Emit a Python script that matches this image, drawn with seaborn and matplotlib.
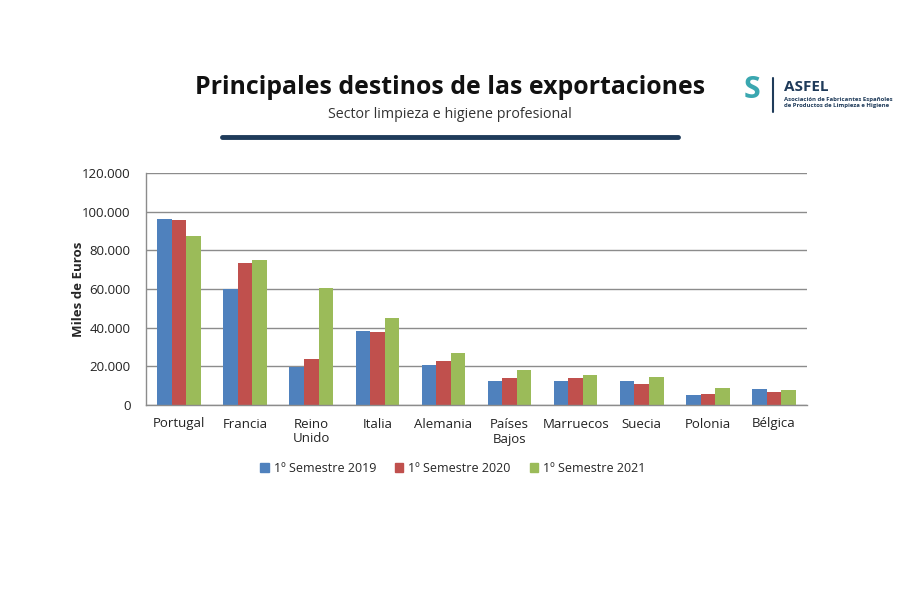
import matplotlib
matplotlib.use("Agg")
import matplotlib.pyplot as plt
import seaborn as sns
import pandas as pd
from matplotlib.patches import Patch
from matplotlib.ticker import FuncFormatter

paises = ["Portugal", "Francia", "Reino\nUnido", "Italia", "Alemania",
          "Países\nBajos", "Marruecos", "Suecia", "Polonia", "Bélgica"]
series = ["1º Semestre 2019", "1º Semestre 2020", "1º Semestre 2021"]
s2019 = [96100, 59800, 19900, 38400, 20800, 12200, 12200, 12200, 5300, 8100]
s2020 = [95600, 73600, 23900, 37800, 22900, 13800, 13800, 10700, 5800, 6900]
s2021 = [87600, 74900, 60400, 44900, 26800, 18100, 15500, 14300, 8600, 7500]
colores = ["#4F81BD", "#C0504D", "#9BBB59"]

df = pd.DataFrame({
    "Pais": paises * 3,
    "Serie": [series[0]] * 10 + [series[1]] * 10 + [series[2]] * 10,
    "Valor": s2019 + s2020 + s2021,
})

sns.set_style("white")
plt.rcParams["font.family"] = ["Open Sans", "DejaVu Sans"]

fig = plt.figure(figsize=(9, 6), dpi=100)
ax = fig.add_axes([0.1622, 0.325, 0.7345, 0.3867])

sns.barplot(data=df, x="Pais", y="Valor", hue="Serie", palette=colores,
            width=0.66, saturation=1, ax=ax, legend=False, errorbar=None,
            linewidth=0, edgecolor="none")

ax.set_ylim(0, 120000)
ax.set_xlim(-0.5, 9.5)
ax.set_yticks(range(0, 120001, 20000))
ax.yaxis.set_major_formatter(FuncFormatter(lambda v, p: f"{int(v):,}".replace(",", ".")))
ax.yaxis.grid(True, color="#8c8c8c", lw=1)
ax.set_axisbelow(True)
for s in ["top", "right"]:
    ax.spines[s].set_visible(False)
for s in ["left", "bottom"]:
    ax.spines[s].set_color("#8c8c8c")
    ax.spines[s].set_linewidth(1)
ax.tick_params(axis="y", length=5, color="#8c8c8c", labelsize=9.5, labelcolor="#222222", pad=6)
ax.set_xticks(range(10))
ax.set_xticklabels(paises)
ax.tick_params(axis="x", length=0, labelsize=9.5, labelcolor="#222222", pad=9)
ax.set_xticks([i - 0.5 for i in range(11)], minor=True)
ax.tick_params(axis="x", which="minor", length=5, color="#8c8c8c")
ax.set_xlabel("")
ax.set_ylabel("Miles de Euros", fontsize=9.5, fontweight="bold", labelpad=-2)

handles = [Patch(color=c, label=l) for c, l in zip(colores, series)]
fig.legend(handles=handles, loc="center", bbox_to_anchor=(0.503, 0.22), ncol=3,
           frameon=False, fontsize=9, handlelength=0.7, handleheight=0.7,
           columnspacing=1.5, handletextpad=0.4)

fig.text(0.5, 1 - 87 / 600, "Principales destinos de las exportaciones",
         ha="center", va="center", fontsize=17.9, fontweight="bold", color="#111111")
fig.text(0.5, 1 - 115 / 600, "Sector limpieza e higiene profesional",
         ha="center", va="center", fontsize=10.3, color="#333333")
fig.add_artist(plt.Line2D([222 / 900, 678 / 900], [1 - 137 / 600] * 2,
                          color="#1f3b5a", lw=3.5, solid_capstyle="round"))

# logo
fig.text(752 / 900, 1 - 90 / 600, "S", ha="center", va="center",
         fontsize=22, fontweight="bold", color="#3aa7b0")
fig.add_artist(plt.Line2D([773 / 900] * 2, [1 - 78 / 600, 1 - 112 / 600],
                          color="#1f3b5a", lw=1.5))
fig.text(784 / 900, 1 - 87 / 600, "ASFEL", ha="left", va="center",
         fontsize=11, fontweight="bold", color="#1f3b5a")
fig.text(784 / 900, 1 - 100 / 600, "Asociación de Fabricantes Españoles",
         ha="left", va="center", fontsize=4.3, fontweight="bold", color="#1f3b5a")
fig.text(784 / 900, 1 - 106 / 600, "de Productos de Limpieza e Higiene",
         ha="left", va="center", fontsize=4.3, fontweight="bold", color="#1f3b5a")

fig.savefig("out.png", dpi=100)
